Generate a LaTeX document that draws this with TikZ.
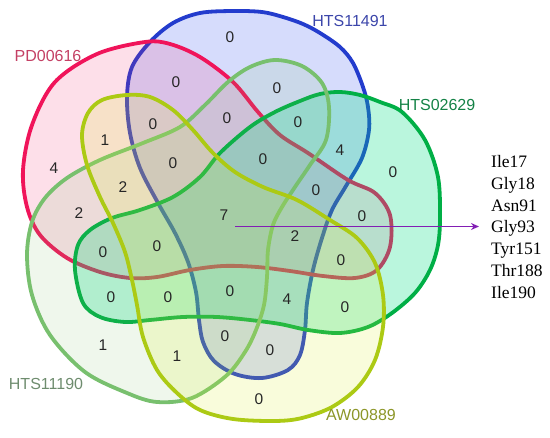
\documentclass[tikz,border=0pt]{standalone}
\usepackage{fontspec}
\setmainfont{Liberation Sans}
\newfontfamily\listfont{Liberation Serif}
\usetikzlibrary{arrows.meta}
\definecolor{lblue}{RGB}{35,60,205}
\definecolor{fblue}{RGB}{50,80,240}
\definecolor{lred}{RGB}{240,20,90}
\definecolor{fred}{RGB}{240,40,110}
\definecolor{lgreen}{RGB}{0,175,70}
\definecolor{fgreen}{RGB}{0,220,130}
\definecolor{llgreen}{RGB}{120,192,110}
\definecolor{flgreen}{RGB}{120,190,100}
\definecolor{lyellow}{RGB}{172,202,20}
\definecolor{fyellow}{RGB}{220,240,40}
\definecolor{tred}{RGB}{196,64,100}
\definecolor{tblue}{RGB}{60,70,170}
\definecolor{tgreen}{RGB}{20,130,70}
\definecolor{tlgreen}{RGB}{110,140,110}
\definecolor{tyellow}{RGB}{140,150,40}
\definecolor{apurple}{RGB}{130,30,180}
\tikzset{
  setcurve/.style={line width=3.8pt, line join=round},
  num/.style={font=\fontsize{15.5}{17}\selectfont, text=black!85, inner sep=0pt},
  setlabel/.style={font=\fontsize{16}{18}\selectfont, inner sep=0pt},
}
\begin{document}
\begin{tikzpicture}[x=1pt,y=-1pt]
\useasboundingbox (0,0) rectangle (550,438);
% HTS11491 (blue)
\filldraw[setcurve, draw=lblue, fill=fblue, fill opacity=0.2]
  plot[smooth cycle, tension=0.55] coordinates {
  (127,97) (132,67) (150,42) (173,23) (200,13) (233,11) (262,12) (283,17) (303,24)
  (320,33) (340,47) (353,63) (363,87) (368,107) (369,130) (362,158) (346,186)
  (332,210) (322,238) (313,270) (307,303) (305,330) (300,355) (288,370) (262,378)
  (235,374) (214,361) (203,342) (199,320) (196,292) (188,262) (175,233) (158,203)
  (140,168) (130,133)};
% PD00616 (red)
\filldraw[setcurve, draw=lred, fill=fred, fill opacity=0.15]
  plot[smooth cycle, tension=0.55] coordinates {
  (23,170) (32,125) (55,82) (97,54) (145,42) (170,44) (200,57) (233,82) (258,112)
  (280,135) (308,153) (348,180) (375,193) (390,215) (390,247) (377,270) (355,278)
  (323,276) (290,271) (257,267) (223,266) (190,270) (157,277) (130,278) (100,272)
  (67,258) (40,235) (27,207)};
% HTS02629 (green)
\filldraw[setcurve, draw=lgreen, fill=fgreen, fill opacity=0.27]
  plot[smooth cycle, tension=0.55] coordinates {
  (340,92) (360,95) (380,102) (402,112) (425,140) (438,177) (440,217) (438,245)
  (430,270) (415,293) (392,313) (368,327) (340,333) (308,330) (280,324) (250,320)
  (217,317) (183,317) (150,320) (125,322) (100,317) (83,303) (75,270) (78,245)
  (90,230) (112,218) (140,210) (173,197) (200,177) (220,153) (250,127) (275,112)
  (300,101) (320,94)};
% HTS11190 (light green)
\filldraw[setcurve, draw=llgreen, fill=flgreen, fill opacity=0.12]
  plot[smooth cycle, tension=0.55] coordinates {
  (275,60) (302,66) (322,83) (329,107) (326,140) (310,165) (295,187) (282,207)
  (273,225) (268,250) (267,277) (264,305) (256,330) (245,352) (226,376) (192,398)
  (157,402) (127,393) (85,372) (50,335) (32,295) (27,255) (32,222) (45,198)
  (67,178) (100,160) (143,143) (180,127) (205,105) (228,82) (250,67)};
% AW00889 (yellow-green)
\filldraw[setcurve, draw=lyellow, fill=fyellow, fill opacity=0.17]
  plot[smooth cycle, tension=0.55] coordinates {
  (127,95) (150,97) (173,110) (193,130) (213,153) (235,172) (263,187) (297,200)
  (330,220) (357,238) (375,263) (383,295) (383,327) (375,360) (358,387) (332,407)
  (302,418) (275,421) (233,419) (200,410) (177,393) (157,370) (143,337) (137,305)
  (132,280) (125,252) (113,223) (100,197) (87,165) (82,135) (88,113) (102,100)};
% set labels
\node[setlabel, text=tred] (lPD) at (48,56) {PD00616};
\node[setlabel, text=tblue] (lH91) at (350,21) {HTS11491};
\node[setlabel, text=tgreen] (lH29) at (437,105) {HTS02629};
\node[setlabel, text=tlgreen] (lH90) at (46,384) {HTS11190};
\node[setlabel, text=tyellow] (lAW) at (361,415) {AW00889};
% region counts
\foreach \x/\y/\v [count=\i] in {
  230/37/0, 176/82/0, 277/88/0, 153/124/0, 227/118/0, 105/140/1, 54/168/4,
  173/163/0, 263/159/0, 298/122/0, 340/150/4, 393/172/0, 316/190/0, 362/216/0,
  123/187/2, 79/213/2, 224/215/7, 295/236/2, 103/252/0, 157/246/0, 341/260/0,
  111/297/0, 168/297/0, 230/291/0, 287/299/4, 345/307/0, 103/345/1, 177/356/1,
  225/336/0, 270/350/0, 259/399/0}
  \node[num] (n\i) at (\x,\y) {\v};
% residue list and arrow
\node[anchor=west, inner xsep=12pt, inner ysep=0pt, align=left,
      font=\listfont\fontsize{17.5}{21.7}\selectfont] (list) at (479,227)
  {Ile17\\Gly18\\Asn91\\Gly93\\Tyr151\\Thr188\\Ile190};
\coordinate (astart) at (235,226.5);
\draw[apurple, line width=1.5pt, -{Stealth[length=8pt,width=7pt]}]
  (astart) -- (astart -| list.west);
\end{tikzpicture}
\end{document}
